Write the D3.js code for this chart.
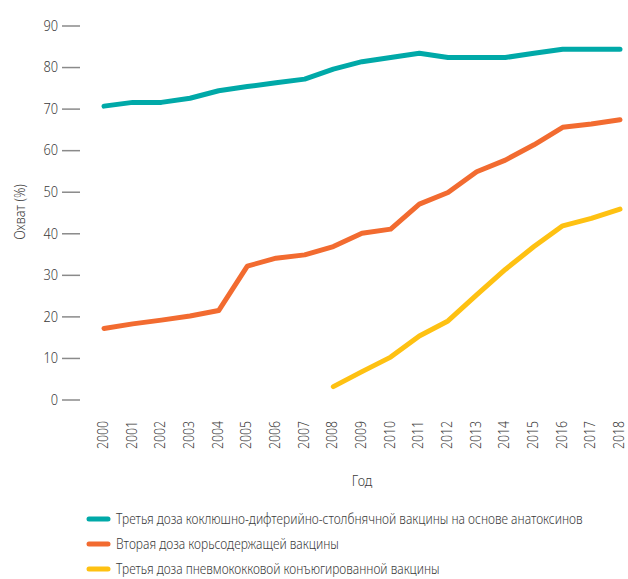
<!DOCTYPE html>
<html>
<head>
<meta charset="utf-8">
<script src="https://cdn.jsdelivr.net/npm/d3@7"></script>
<style>
html,body{margin:0;padding:0;background:#fff;}
svg text{font-family:"Noto Sans","DejaVu Sans",sans-serif;font-weight:300;fill:#3a3a3a;}
</style>
</head>
<body>
<svg id="chart" width="628" height="579"></svg>
<script>
const years = [2000,2001,2002,2003,2004,2005,2006,2007,2008,2009,2010,2011,2012,2013,2014,2015,2016,2017,2018];
const dtp3 = [70.6,71.5,71.5,72.5,74.3,75.3,76.2,77.1,79.5,81.3,82.3,83.3,82.3,82.3,82.3,83.3,84.3,84.3,84.3];
const mcv2 = [17.1,18.2,19.1,20.1,21.4,32.1,34.0,34.8,36.8,40.0,41.0,47.0,49.8,54.8,57.6,61.3,65.5,66.3,67.3];
const pcv3 = [null,null,null,null,null,null,null,null,3.1,6.7,10.2,15.3,18.9,25.2,31.3,36.8,41.8,43.6,45.8];
const yTicks = [0,10,20,30,40,50,60,70,80,90];
const seriesNames = [
  "Третья доза коклюшно-дифтерийно-столбнячной вакцины на основе анатоксинов",
  "Вторая доза корьсодержащей вакцины",
  "Третья доза пневмококковой конъюгированной вакцины"
];
const seriesColors = ["#00a9a8","#f26b30","#fec112"];
const xTitle = "Год";
const yTitle = "Охват (%)";

// layout constants
const legendTextWidths = [467, 223, 324];
const condense = 0.85;

const svg = d3.select("#chart");
const x = d3.scalePoint().domain(years).range([104, 620]);
const y = d3.scaleLinear().domain([0, 90]).range([399.5, 25.5]);

// Y axis
const yAxis = d3.axisLeft(y).tickValues(yTicks).tickSize(18).tickPadding(4);
const gy = svg.append("g").attr("transform","translate(80,0)").call(yAxis);
gy.select(".domain").remove();
gy.selectAll(".tick line").attr("stroke","#8a8a8a").attr("stroke-width",1.5);
gy.selectAll(".tick text").attr("font-size",15).style("fill","#3a3a3a")
  .attr("x",0).attr("transform",`translate(-22,0) scale(${condense},1)`);

// X axis (labels only)
const xAxis = d3.axisBottom(x).tickSize(0).tickPadding(0);
const gx = svg.append("g").attr("transform","translate(0,421)").call(xAxis);
gx.select(".domain").remove();
gx.selectAll(".tick text")
  .attr("font-size",14.5)
  .attr("text-anchor","end")
  .attr("x",0).attr("y",0).attr("dy","0.25em")
  .attr("transform",`rotate(-90) scale(${condense},1)`)
  .style("fill","#3a3a3a");
svg.selectAll("g").attr("font-family",null);

// titles
svg.append("text").attr("transform",`translate(362,486) scale(${condense},1)`)
  .attr("text-anchor","middle").attr("font-size",15).text(xTitle);
svg.append("text").attr("transform",`translate(25,212) rotate(-90) scale(${condense},1)`)
  .attr("text-anchor","middle").attr("font-size",15).text(yTitle);

// lines
const data = [dtp3, mcv2, pcv3];
const line = d3.line()
  .defined(d => d.v !== null)
  .x(d => x(d.year))
  .y(d => y(d.v));
data.forEach((arr, i) => {
  const pts = years.map((yr, j) => ({year: yr, v: arr[j]}));
  svg.append("path")
    .attr("d", line(pts))
    .attr("fill","none")
    .attr("stroke", seriesColors[i])
    .attr("stroke-width",5)
    .attr("stroke-linecap","round")
    .attr("stroke-linejoin","round");
});

// legend
const legend = svg.append("g");
seriesNames.forEach((name, i) => {
  const yy = 519 + i * 25;
  legend.append("line")
    .attr("x1",89).attr("x2",108).attr("y1",yy).attr("y2",yy)
    .attr("stroke",seriesColors[i]).attr("stroke-width",5).attr("stroke-linecap","round");
  const t = legend.append("text").attr("font-size",14.5).attr("dy","0.35em").text(name);
  const w = t.node().getComputedTextLength();
  t.attr("transform",`translate(116,${yy}) scale(${legendTextWidths[i] / w},1)`);
});
</script>
</body>
</html>
